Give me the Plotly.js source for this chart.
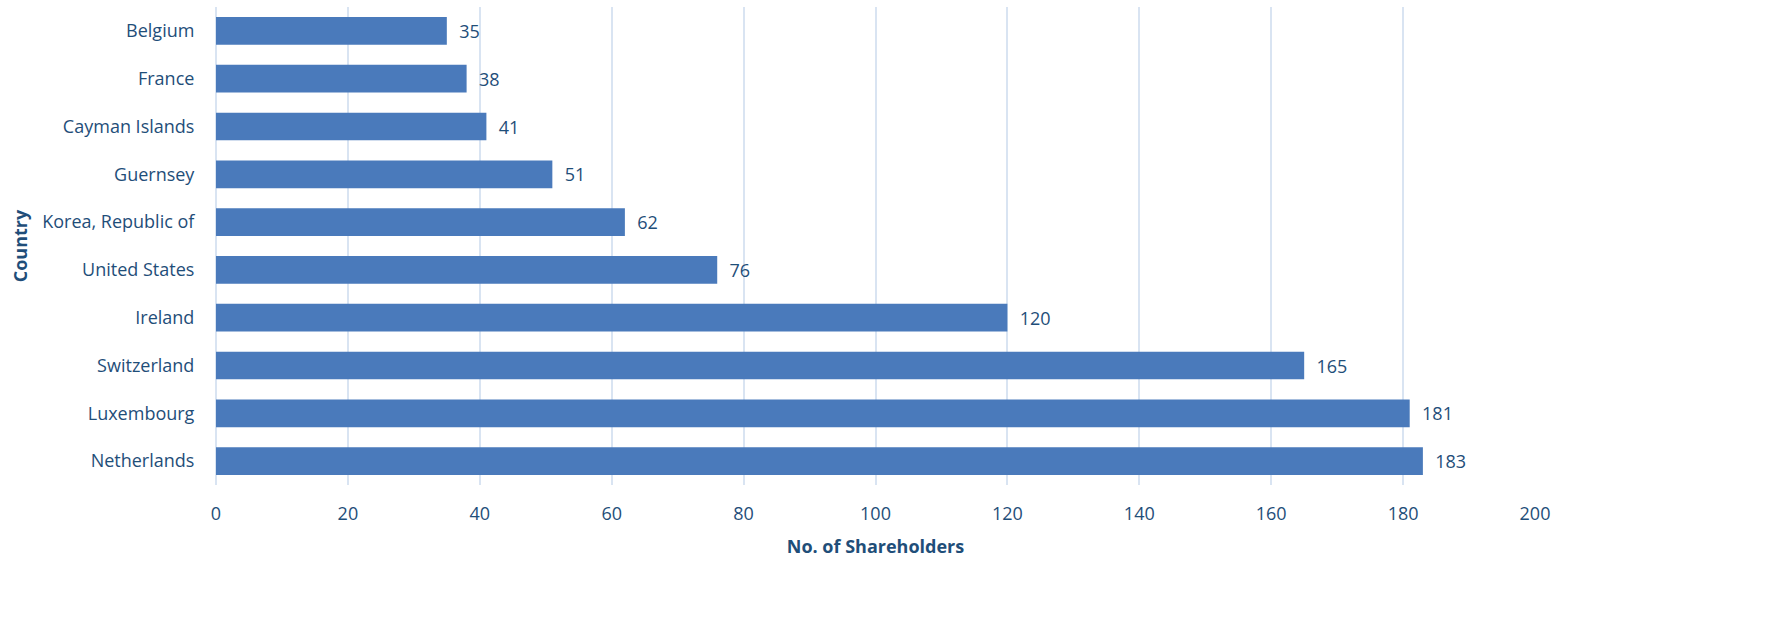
<!DOCTYPE html>
<html>
<head>
<meta charset="utf-8">
<script src="https://cdn.plot.ly/plotly-3.0.1.min.js"></script>
<style>html,body{margin:0;padding:0;background:#fff;}#chart{width:1775px;height:631px;}</style>
</head>
<body>
<div id="chart"></div>
<script>
const countries = ["Belgium","France","Cayman Islands","Guernsey","Korea, Republic of","United States","Ireland","Switzerland","Luxembourg","Netherlands"];
const shareholders = [35,38,41,51,62,76,120,165,181,183];
const xTicks = [0,20,40,60,80,100,120,140,160,180,200];

const textColor = "#1F4E79";
const fontFam = "Open Sans, Lato, sans-serif";
const fs = 18;

const trace = {
  type: "bar",
  orientation: "h",
  y: countries,
  x: shareholders,
  text: shareholders.map(v => "\u00a0\u00a0" + v),
  textposition: "outside",
  cliponaxis: false,
  textfont: {family: fontFam, size: fs, color: textColor},
  marker: {color: "#4A7ABB", line: {width: 0}},
  hoverinfo: "x+y"
};

const layout = {
  width: 1775, height: 631,
  margin: {l: 216, r: 240, t: 7, b: 146},
  paper_bgcolor: "#fff", plot_bgcolor: "#fff",
  bargap: 0.42,
  showlegend: false,
  font: {family: fontFam, color: textColor, size: fs},
  xaxis: {
    range: [0, 200],
    tickvals: xTicks,
    ticktext: xTicks.map(String),
    showgrid: true, gridcolor: "#D9E4F2", gridwidth: 2,
    zeroline: true, zerolinecolor: "#D9E4F2", zerolinewidth: 2,
    showline: false,
    ticks: "outside", ticklen: 12, tickcolor: "rgba(0,0,0,0)",
    tickfont: {family: fontFam, size: fs, color: textColor},
    title: {text: "<b>No. of Shareholders</b>", font: {family: fontFam, size: fs, color: textColor}, standoff: 16}
  },
  yaxis: {
    categoryorder: "array",
    categoryarray: countries,
    autorange: "reversed",
    showgrid: false, zeroline: false, showline: false,
    ticks: "outside", ticklen: 17, tickcolor: "rgba(0,0,0,0)",
    tickfont: {family: fontFam, size: fs, color: textColor},
    title: {text: "<b>Country</b>", font: {family: fontFam, size: fs, color: textColor}, standoff: 9}
  }
};

Plotly.newPlot("chart", [trace], layout, {displayModeBar: false, staticPlot: true});
</script>
</body>
</html>
